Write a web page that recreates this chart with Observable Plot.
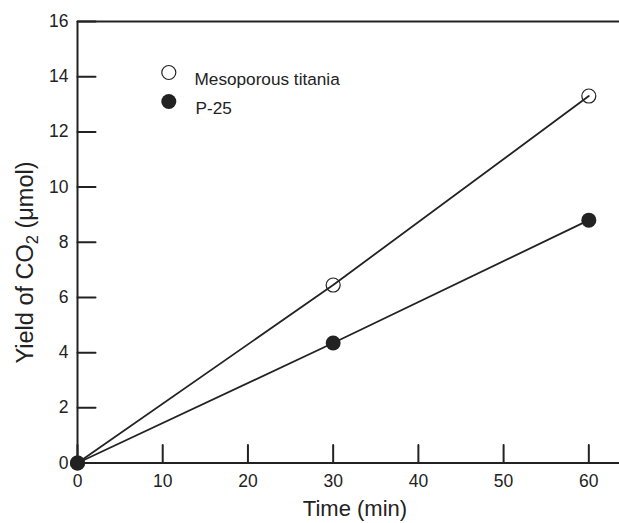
<!DOCTYPE html>
<html>
<head>
<meta charset="utf-8">
<script src="https://cdn.jsdelivr.net/npm/d3@7"></script>
<script src="https://cdn.jsdelivr.net/npm/@observablehq/plot@0.6"></script>
<style>
  html, body { margin: 0; padding: 0; background: white; }
  #chart svg { display: block; }
</style>
</head>
<body>
<div id="chart"></div>
<script>
const times = [0, 30, 60];
const mesoporous = [0, 6.45, 13.3];
const p25 = [0, 4.35, 8.8];
const seriesNames = ["Mesoporous titania", "P-25"];
const xTicks = [0, 10, 20, 30, 40, 50, 60];
const yTicks = [0, 2, 4, 6, 8, 10, 12, 14, 16];
const xTitle = "Time (min)";
const yTitleParts = ["Yield of CO", "2", " (\u03bcmol)"];

const data = [
  ...times.map((t, i) => ({series: seriesNames[0], time: t, value: mesoporous[i]})),
  ...times.map((t, i) => ({series: seriesNames[1], time: t, value: p25[i]}))
];

const ink = "#222";
const font = "'Liberation Sans', Arial, Helvetica, sans-serif";
const tickShape = {draw(context, l) { context.moveTo(0, 0); context.lineTo(0, -l); }};

const chart = Plot.plot({
  width: 619,
  height: 523,
  marginLeft: 77,
  marginRight: 0,
  marginTop: 21,
  marginBottom: 60.5,
  style: {fontFamily: font, fontSize: "17px", color: ink, background: "white"},
  x: {domain: [0, 63.6], ticks: xTicks, label: null},
  y: {domain: [0, 16], ticks: yTicks, label: null},
  marks: [
    Plot.axisX(xTicks, {tickSize: 0, tickPadding: 12, fontSize: 17.5, fill: ink}),
    Plot.axisY(yTicks, {tickSize: 0, tickPadding: 9, fontSize: 17.5, fill: ink}),
    Plot.ruleY([0, 16], {stroke: ink, strokeWidth: 2}),
    Plot.ruleX([0], {stroke: ink, strokeWidth: 2}),
    Plot.vector(xTicks, {x: d => d, y: () => 0, length: 18, rotate: 0, anchor: "start", shape: tickShape, stroke: ink, strokeWidth: 2}),
    Plot.vector(yTicks, {x: () => 0, y: d => d, length: 18, rotate: 90, anchor: "start", shape: tickShape, stroke: ink, strokeWidth: 2}),
    Plot.line(data, {x: "time", y: "value", z: "series", stroke: ink, strokeWidth: 1.8}),
    Plot.dot(data.filter(d => d.series === seriesNames[0]), {x: "time", y: "value", r: 7, fill: "none", stroke: ink, strokeWidth: 1.2}),
    Plot.dot(data.filter(d => d.series === seriesNames[1]), {x: "time", y: "value", r: 7.5, fill: ink, stroke: "none"}),
    // legend
    Plot.dot([seriesNames[0]], {frameAnchor: "top-left", dx: 91.3, dy: 51, r: 7, fill: "white", stroke: ink, strokeWidth: 1.2}),
    Plot.dot([seriesNames[1]], {frameAnchor: "top-left", dx: 91.3, dy: 80, r: 7.5, fill: ink, stroke: "none"}),
    Plot.text([seriesNames[0]], {frameAnchor: "top-left", text: d => d, dx: 117, dy: 51, textAnchor: "start", fontSize: 17.2, fill: ink}),
    Plot.text([seriesNames[1]], {frameAnchor: "top-left", text: d => d, dx: 118, dy: 80, textAnchor: "start", fontSize: 17.2, fill: ink})
  ]
});

document.getElementById("chart").appendChild(chart);

const svg = d3.select(chart);
svg.append("text")
  .attr("x", 355)
  .attr("y", 516)
  .attr("text-anchor", "middle")
  .attr("font-family", font)
  .attr("font-size", 22)
  .attr("fill", ink)
  .text(xTitle);

const yt = svg.append("text")
  .attr("transform", "translate(33,262.5) rotate(-90)")
  .attr("text-anchor", "middle")
  .attr("font-family", font)
  .attr("font-size", 23.5)
  .attr("fill", ink);
yt.append("tspan").text(yTitleParts[0]);
yt.append("tspan").attr("baseline-shift", "-28%").attr("font-size", 16.5).text(yTitleParts[1]);
yt.append("tspan").text(yTitleParts[2]);
</script>
</body>
</html>
